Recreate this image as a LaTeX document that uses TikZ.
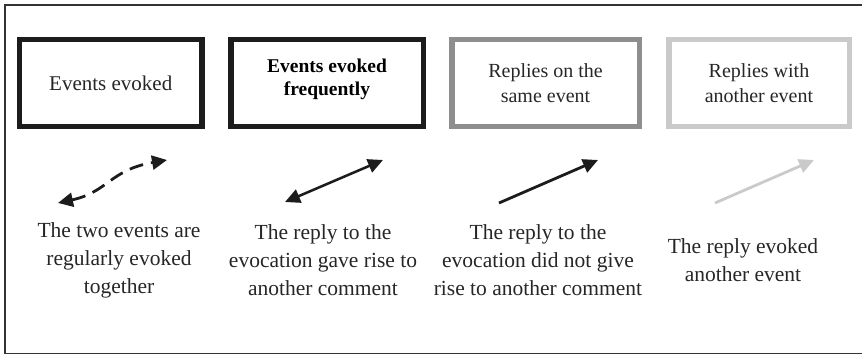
\documentclass[tikz,border=0pt]{standalone}
\usepackage{fontspec}
\setmainfont{Liberation Serif}
\usetikzlibrary{arrows.meta}
\definecolor{darkbox}{HTML}{1C1C1C}
\definecolor{midbox}{HTML}{8E8E8E}
\definecolor{lightbox}{HTML}{CACACA}
\definecolor{frame}{HTML}{333333}
\definecolor{txt}{HTML}{262626}
\begin{document}
\begin{tikzpicture}[x=1pt,y=-1pt,
  catbox/.style={draw=#1, line width=5.5pt, minimum height=87pt, inner sep=2pt,
    align=center, text=txt, font=\fontsize{20}{25}\selectfont},
  desc/.style={align=center, text=txt, font=\fontsize{21.5}{28}\selectfont, inner sep=0pt},
  >={Triangle[length=15pt,width=14pt]},
  arr/.style={line width=2.8pt},
]
\useasboundingbox (0,0) rectangle (862,355);
\draw[line width=1.7pt, draw=frame] (862,4.7) -- (5,4.7) -- (5,353.5) -- (862,353.5);

\node[catbox=darkbox, minimum width=182.5pt, font=\fontsize{21}{25}\selectfont] (b1) at (110.75,83) {Events evoked};
\node[catbox=darkbox, minimum width=192.5pt, font=\fontsize{19.5}{23}\selectfont\bfseries, text=black] (b2) at (327,83) {\raisebox{3.5pt}[\height][\depth]{\begin{tabular}{@{}c@{}}Events evoked\\frequently\end{tabular}}};
\node[catbox=midbox, minimum width=187.5pt] (b3) at (545.5,83) {Replies on the\\same event};
\node[catbox=lightbox, minimum width=180.5pt] (b4) at (759,83) {Replies with\\another event};

\coordinate (a1s) at (58,203);
\coordinate (a1e) at (167,160);
\coordinate (a2s) at (285,202);
\coordinate (a2e) at (383,160);
\coordinate (a3s) at (499,203);
\coordinate (a3e) at (598,160);
\coordinate (a4s) at (715,203);
\coordinate (a4e) at (814,160);

\draw[arr, darkbox, dash pattern=on 14pt off 8pt, <->] (a1s) .. controls (108,192) and (110,170) .. (a1e);
\draw[arr, darkbox, line width=2.5pt, <->] (a2s) -- (a2e);
\draw[arr, darkbox, ->] (a3s) -- (a3e);
\draw[arr, lightbox, ->] (a4s) -- (a4e);

\node[desc] (d1) at (119,260) {The two events are\\regularly evoked\\together};
\node[desc] (d2) at (323,260) {The reply to the\\evocation gave rise to\\another comment};
\node[desc] (d3) at (538,260) {The reply to the\\evocation did not give\\rise to another comment};
\node[desc] (d4) at (743,260) {The reply evoked\\another event};
\end{tikzpicture}
\end{document}
